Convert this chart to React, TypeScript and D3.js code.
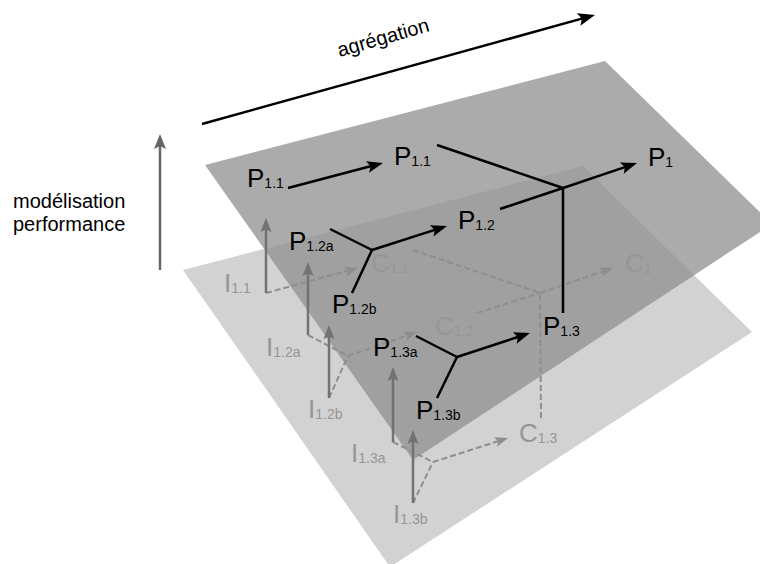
import * as React from 'react';
import {useEffect, useRef} from 'react';
import * as d3 from 'd3';

type Pt = [number, number];

const W = 760;
const H = 564;

// the two planes (quadrilaterals seen in perspective)
const upperPlane: Pt[] = [[205, 165], [605, 61], [772, 224], [413, 460]];
const lowerPlane: Pt[] = [[183, 270], [583, 166], [752, 332], [390, 567]];

// performance level (black)
const upperLabels = [
  {base: 'P', sub: '1.1', at: [247, 187] as Pt},
  {base: 'P', sub: '1.1', at: [394, 165] as Pt},
  {base: 'P', sub: '1', at: [648, 166] as Pt},
  {base: 'P', sub: '1.2', at: [458, 229] as Pt},
  {base: 'P', sub: '1.2a', at: [289, 250] as Pt},
  {base: 'P', sub: '1.2b', at: [332, 313] as Pt},
  {base: 'P', sub: '1.3', at: [543, 335] as Pt},
  {base: 'P', sub: '1.3a', at: [373, 356] as Pt},
  {base: 'P', sub: '1.3b', at: [416, 419] as Pt},
];
const upperArrows: [Pt, Pt][] = [
  [[288, 188], [383, 163]],
  [[372, 250], [447, 226]],
  [[457, 357], [530, 333]],
  [[563, 188], [637, 163]],
];
const upperLinks: [Pt, Pt][] = [
  [[330, 229], [372, 250]],
  [[352, 293], [372, 250]],
  [[416, 336], [457, 357]],
  [[437, 398], [457, 357]],
  [[437, 145], [563, 188]],
  [[500, 209], [563, 188]],
  [[563, 313], [563, 188]],
];

// indicator / criteria level (grey)
const lowerLabels = [
  {base: 'C', sub: '1.1', at: [371, 272] as Pt},
  {base: 'C', sub: '1', at: [625, 272] as Pt},
  {base: 'C', sub: '1.2', at: [435, 335] as Pt},
  {base: 'C', sub: '1.3', at: [519, 442] as Pt},
  {base: 'I', sub: '1.1', at: [224, 292] as Pt},
  {base: 'I', sub: '1.2a', at: [266, 356] as Pt},
  {base: 'I', sub: '1.2b', at: [308, 418] as Pt},
  {base: 'I', sub: '1.3a', at: [351, 462] as Pt},
  {base: 'I', sub: '1.3b', at: [393, 523] as Pt},
];
const indicatorArrows: [Pt, Pt][] = [
  [[266, 293], [266, 218]],
  [[308, 335], [308, 262]],
  [[329, 398], [329, 325]],
  [[393, 442], [393, 367]],
  [[413, 503], [413, 430]],
];
const dashedArrows: [Pt, Pt][] = [
  [[266, 293], [358, 268]],
  [[348, 356], [417, 332]],
  [[433, 462], [508, 438]],
  [[540, 293], [613, 268]],
];
const dashedLinks: [Pt, Pt][] = [
  [[308, 335], [348, 356]],
  [[329, 398], [348, 356]],
  [[393, 442], [433, 462]],
  [[413, 503], [433, 462]],
  [[413, 250], [540, 293]],
  [[477, 313], [540, 293]],
  [[541, 418], [540, 293]],
];

const aggregationAxis: [Pt, Pt] = [[202, 124], [595, 15]];
const modelAxis: [Pt, Pt] = [[160, 270], [160, 134]];
const sideLabel = ['modélisation', 'performance'];

const FONT = '"Liberation Sans", Arial, sans-serif';

interface ArrowStyle {
  color: string,
  width: number,
  len: number,
  half: number,
  dash?: string
}

export default function App() {
  const ref = useRef<SVGSVGElement>(null);

  useEffect(() => {
    const svg = d3.select(ref.current);
    svg.selectAll('*').remove();

    const line = d3.line();
    const g = svg.append('g');

    const polygon = (pts: Pt[], fill: string, opacity = 1) => {
      g.append('path')
        .attr('d', line(pts) + 'Z')
        .attr('fill', fill)
        .attr('fill-opacity', opacity);
    };

    const segment = (a: Pt, b: Pt, s: ArrowStyle) => {
      g.append('line')
        .attr('x1', a[0]).attr('y1', a[1])
        .attr('x2', b[0]).attr('y2', b[1])
        .attr('stroke', s.color)
        .attr('stroke-width', s.width)
        .attr('stroke-dasharray', s.dash || null);
    };

    const arrow = (a: Pt, b: Pt, s: ArrowStyle) => {
      const ang = Math.atan2(b[1] - a[1], b[0] - a[0]);
      const c = Math.cos(ang), sn = Math.sin(ang);
      const back: Pt = [b[0] - c * s.len * 0.75, b[1] - sn * s.len * 0.75];
      segment(a, back, s);
      const base: Pt = [b[0] - c * s.len, b[1] - sn * s.len];
      polygon([
        b,
        [base[0] - sn * s.half, base[1] + c * s.half],
        [b[0] - c * s.len * 0.8, b[1] - sn * s.len * 0.8],
        [base[0] + sn * s.half, base[1] - c * s.half],
      ], s.color);
    };

    const label = (d: {base: string, sub: string, at: Pt}, color: string) => {
      const t = g.append('text')
        .attr('x', d.at[0]).attr('y', d.at[1])
        .attr('fill', color)
        .style('font-family', FONT);
      t.append('tspan').attr('font-size', 26).text(d.base);
      t.append('tspan').attr('font-size', 14).attr('dy', 1).text(d.sub);
    };

    // planes
    polygon(lowerPlane, '#d2d2d2');
    polygon(upperPlane, '#8f8f8f', 0.75);

    // lower level
    const dashed: ArrowStyle = {color: '#8e8e8e', width: 2, len: 13, half: 5, dash: '6,3'};
    dashedLinks.forEach(([a, b]) => segment(a, b, dashed));
    dashedArrows.forEach(([a, b]) => arrow(a, b, dashed));
    indicatorArrows.forEach(([a, b]) => arrow(a, b, {color: '#727272', width: 2.5, len: 14, half: 5.5}));
    lowerLabels.forEach(d => label(d, '#969696'));

    // upper level
    const solid: ArrowStyle = {color: '#000', width: 2.5, len: 16, half: 6};
    upperLinks.forEach(([a, b]) => segment(a, b, solid));
    upperArrows.forEach(([a, b]) => arrow(a, b, solid));
    upperLabels.forEach(d => label(d, '#000'));

    // axes
    arrow(aggregationAxis[0], aggregationAxis[1], {color: '#000', width: 2.5, len: 17, half: 6.5});
    arrow(modelAxis[0], modelAxis[1], {color: '#666', width: 2.5, len: 15, half: 6});

    g.append('text')
      .attr('transform', 'translate(385,44) rotate(-16)')
      .attr('text-anchor', 'middle')
      .attr('font-size', 20)
      .style('font-family', FONT)
      .text('agrégation');

    g.append('text')
      .attr('font-size', 20)
      .style('font-family', FONT)
      .selectAll('tspan')
      .data(sideLabel)
      .join('tspan')
      .attr('x', 13)
      .attr('y', (d, i) => 208 + i * 23)
      .text(d => d);
  }, []);

  return (
    <svg ref={ref} width={W} height={H} viewBox={`0 0 ${W} ${H}`}
      style={{position: 'absolute', left: 0, top: 0, background: '#fff'}}/>
  );
}
